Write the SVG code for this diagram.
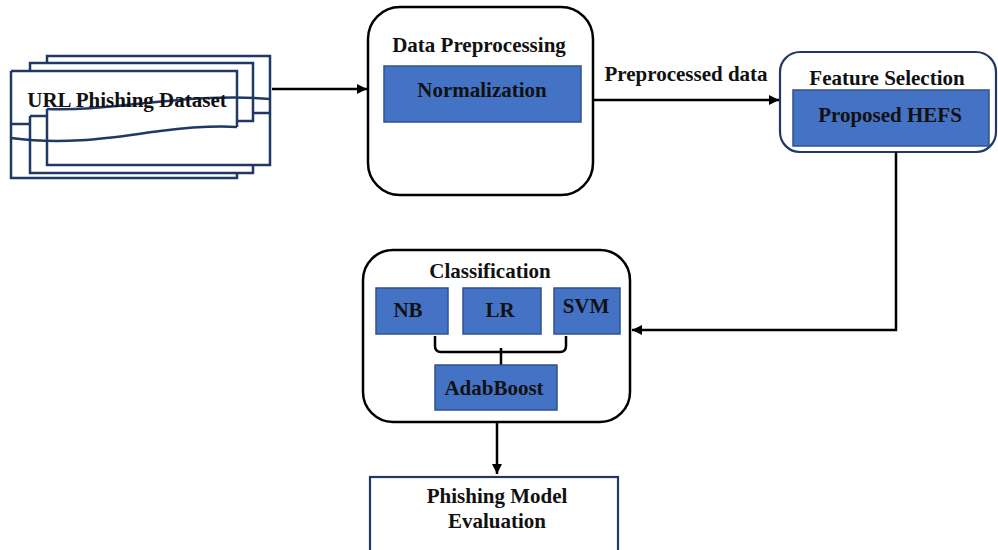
<svg xmlns="http://www.w3.org/2000/svg" width="998" height="550" viewBox="0 0 998 550">
<defs>
<marker id="arr" viewBox="0 0 10 10" refX="10" refY="5" markerWidth="10" markerHeight="10" markerUnits="userSpaceOnUse" orient="auto">
<path d="M0,0 L10,5 L0,10 Z" fill="#000"/>
</marker>
</defs>
<style>
text{font-family:"Liberation Serif","Times New Roman",serif;font-weight:bold;font-size:21px;fill:#111;text-anchor:middle}
.doc{fill:none;stroke:#1f3864;stroke-width:2.5}
.blk{fill:#fff;stroke:#000;stroke-width:2.5}
.navy{fill:#fff;stroke:#1f3864;stroke-width:2.2}
.blue{fill:#4472c4;stroke:#2f528f;stroke-width:1.5}
.conn{fill:none;stroke:#000;stroke-width:2.5}
</style>
<rect width="998" height="550" fill="#fff"/>
<g id="dataset">
<path class="doc" d="M47,63 V56 H270 V165 H47 V109"/>
<path class="doc" d="M47,109 C110,112 190,92 270,99"/>
<path class="doc" d="M30,71 V63 H253 V121 H237 M253,113 H270"/>
<path class="doc" d="M30,116 H47 M30,116 V173 H253 V165"/>
<path class="doc" d="M11,71 H237 V127 M11,71 V178 H237 V173 M11,124 H30"/>
<path class="doc" d="M11,138 C70,146 120,136 160,131 S220,126 237,127"/>
<text x="127" y="107">URL Phishing Dataset</text>
</g>
<g id="preprocessing">
<rect class="blk" x="368" y="7" width="225" height="188" rx="32"/>
<text x="479" y="52">Data Preprocessing</text>
<rect class="blue" x="384" y="66" width="197" height="56"/>
<text x="482" y="97">Normalization</text>
</g>
<g id="feature">
<rect class="navy" x="780" y="52" width="216" height="100" rx="20"/>
<text x="887" y="85">Feature Selection</text>
<rect class="blue" x="793" y="90" width="196" height="56"/>
<text x="890" y="122">Proposed HEFS</text>
</g>
<g id="classification">
<rect class="blk" x="363" y="250" width="267" height="172" rx="30"/>
<text x="490" y="278">Classification</text>
<rect class="blue" x="376" y="288" width="72" height="46"/>
<text x="408" y="317">NB</text>
<rect class="blue" x="463" y="288" width="78" height="46"/>
<text x="500" y="317">LR</text>
<rect class="blue" x="554" y="288" width="66" height="46"/>
<text x="586" y="313">SVM</text>
<path class="conn" d="M435,336 V346 Q435,352 441,352 H560 Q566,352 566,346 V336 M501,365 V352 M501,352 V348" stroke-width="2.2"/>
<rect class="blue" x="435" y="365" width="122" height="45"/>
<text x="494" y="395">AdabBoost</text>
</g>
<g id="evaluation">
<rect class="navy" x="370" y="477" width="248" height="75"/>
<text x="497" y="503">Phishing Model</text>
<text x="497" y="528">Evaluation</text>
</g>
<g id="connectors">
<path class="conn" d="M272,89 H367" marker-end="url(#arr)"/>
<path class="conn" d="M593,100 H779" marker-end="url(#arr)"/>
<text x="686" y="81">Preprocessed data</text>
<path class="conn" d="M896,152 V330 H632" marker-end="url(#arr)"/>
<path class="conn" d="M497,422 V474" marker-end="url(#arr)"/>
</g>
</svg>
